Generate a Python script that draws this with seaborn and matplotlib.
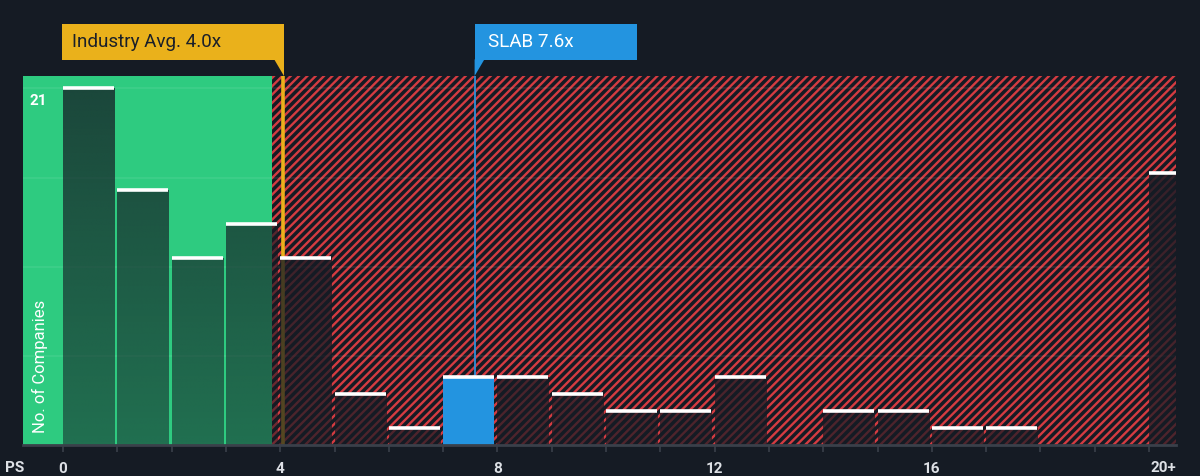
import numpy as np
import pandas as pd
import matplotlib
matplotlib.use("Agg")
import matplotlib.pyplot as plt
import matplotlib.colors as mcolors
from matplotlib.patches import Rectangle, Polygon
import seaborn as sns

# values
bin_left = list(range(0, 21))
counts = [21, 15, 11, 13, 11, 3, 1, 4, 4, 3, 2, 2, 4, 0, 2, 2, 1, 1, 0, 0, 16]
tick_values = [0, 4, 8, 12, 16]
tick_labels = ["0", "4", "8", "12", "16"]
last_label = "20+"
industry_avg = 4.05
industry_text = "Industry Avg. 4.0x"
company = "SLAB"
company_ps = 7.59
company_text = "SLAB 7.6x"
fair_edge = 3.84
grid_values = [5.25, 10.5, 15.75, 21]

BG = "#151b24"
GREEN = "#2ecb80"
RED = "#d43b41"
YELLOW = "#eab11b"
BLUE = "#2394e0"
BAR_W = 0.94
XMIN, XMAX = -0.737, 20.497
YMAX = 21.73

sns.set_theme(style="dark")
plt.rcParams["font.family"] = ["Roboto", "DejaVu Sans"]
plt.rcParams["hatch.linewidth"] = 1.7

df = pd.DataFrame({"left": bin_left, "count": counts})
df["center"] = df["left"] + BAR_W / 2

fig = plt.figure(figsize=(12, 4.76), dpi=100, facecolor=BG)
ax = fig.add_axes([23 / 1200, 31 / 476, 1153 / 1200, 369 / 476])
ax.set_facecolor(BG)

sns.barplot(data=df, x="center", y="count", native_scale=True, width=BAR_W,
            color="#19202a", linewidth=0, errorbar=None, ax=ax, zorder=3)
bars = list(ax.patches)

# backgrounds: fair-value zone and hatched overvalued zone
ax.add_patch(Rectangle((XMIN, 0), fair_edge - XMIN, YMAX, facecolor=GREEN,
                       edgecolor="none", zorder=0.5))
ax.add_patch(Rectangle((fair_edge, 0), XMAX - fair_edge, YMAX, facecolor=BG,
                       edgecolor=RED, linewidth=0, hatch="////", zorder=0.5))

for g in grid_values:
    ax.axhline(g, color="white", alpha=0.08, lw=1.2, zorder=1)

ax.axvline(industry_avg, color=YELLOW, lw=2.6, zorder=2)
ax.axvline(company_ps, color="#2f8fd8", lw=1.3, zorder=2)

# bars: vertical fade, company bar solid blue
base = mcolors.to_rgb("#151b24")
for i, p in enumerate(bars):
    x0, w, h = p.get_x(), p.get_width(), p.get_height()
    if h <= 0:
        continue
    if bin_left[i] <= company_ps < bin_left[i] + 1:
        p.set_facecolor(BLUE)
        p.set_zorder(4)
        continue
    p.set_facecolor("none")
    if x0 < fair_edge:
        a_bot, a_top = 0.52, 0.76
    else:
        a_bot, a_top = 0.7, 0.88
    n = 256
    ys = np.linspace(0, h, n)
    img = np.zeros((n, 1, 4))
    img[..., :3] = base
    img[:, 0, 3] = a_bot + (a_top - a_bot) * ys / YMAX
    ax.imshow(img, extent=(x0, x0 + w, 0, h), origin="lower", aspect="auto",
              interpolation="bilinear", zorder=3)

caps = df[df["count"] > 0]
ax.hlines(caps["count"], caps["left"], caps["left"] + BAR_W, colors="white",
          lw=2.6, zorder=5)

ax.set_xlim(XMIN, XMAX)
ax.set_ylim(0, YMAX)

# axes styling
for s in ["top", "right", "left"]:
    ax.spines[s].set_visible(False)
ax.spines["bottom"].set_color("#3a404a")
ax.spines["bottom"].set_linewidth(2)
ax.spines["bottom"].set_zorder(6)
ax.set_yticks([])
ax.set_xticks(list(range(0, 21)), minor=True)
ax.set_xticks(tick_values)
ax.set_xticklabels(tick_labels)
ax.tick_params(axis="x", which="both", length=5, width=1.2, color="#3a404a",
               direction="out", bottom=True)
ax.tick_params(axis="x", which="major", pad=7, labelsize=11,
               labelcolor="#dde0e5")
for t in ax.get_xticklabels():
    t.set_fontweight("bold")
ax.grid(False)
ax.set_xlabel("")
ax.set_ylabel("")

xt = ax.get_xaxis_transform()
ax.text(20.27, -0.063, last_label, transform=xt, ha="center", va="center",
        fontsize=11, fontweight="bold", color="#dde0e5", clip_on=False)
ax.text(XMIN - 0.16, -0.063, "PS", transform=xt, ha="center", va="center",
        fontsize=11, fontweight="bold", color="#dde0e5", clip_on=False)

ax.text(0.0147, 0.033, "No. of Companies", transform=ax.transAxes, rotation=90,
        ha="center", va="bottom", fontsize=12, color="white", zorder=7)
ax.text(-0.46, 21 - 0.75, "21", ha="center", va="center", fontsize=11,
        fontweight="bold", color="white", zorder=7)

# callout boxes above the plot
y_lo, y_hi = 1.043, 1.141
ind_left = industry_avg - 4.07
ax.add_patch(Rectangle((ind_left, y_lo), industry_avg + 0.02 - ind_left, y_hi - y_lo,
                       transform=xt, facecolor=YELLOW, edgecolor="none",
                       clip_on=False, zorder=8))
ax.add_patch(Polygon([(industry_avg - 0.17, y_lo + 0.002), (industry_avg + 0.02, y_lo + 0.002),
                      (industry_avg + 0.02, 1.0)], closed=True, transform=xt,
                     facecolor=YELLOW, edgecolor="none", clip_on=False, zorder=8))
ax.text(ind_left + 0.19, 1.092, industry_text, transform=xt, ha="left", va="center",
        fontsize=13.6, color="#1b2029", clip_on=False, zorder=9)

slab_w = 2.99
ax.add_patch(Rectangle((company_ps - 0.01, y_lo), slab_w, y_hi - y_lo,
                       transform=xt, facecolor=BLUE, edgecolor="none",
                       clip_on=False, zorder=8))
ax.add_patch(Polygon([(company_ps - 0.01, y_lo + 0.002), (company_ps + 0.17, y_lo + 0.002),
                      (company_ps - 0.01, 1.0)], closed=True, transform=xt,
                     facecolor=BLUE, edgecolor="none", clip_on=False, zorder=8))
ax.text(company_ps + 0.24, 1.092, company_text, transform=xt, ha="left", va="center",
        fontsize=13.6, color="white", clip_on=False, zorder=9)

fig.savefig("out.png", dpi=100, facecolor=BG)
